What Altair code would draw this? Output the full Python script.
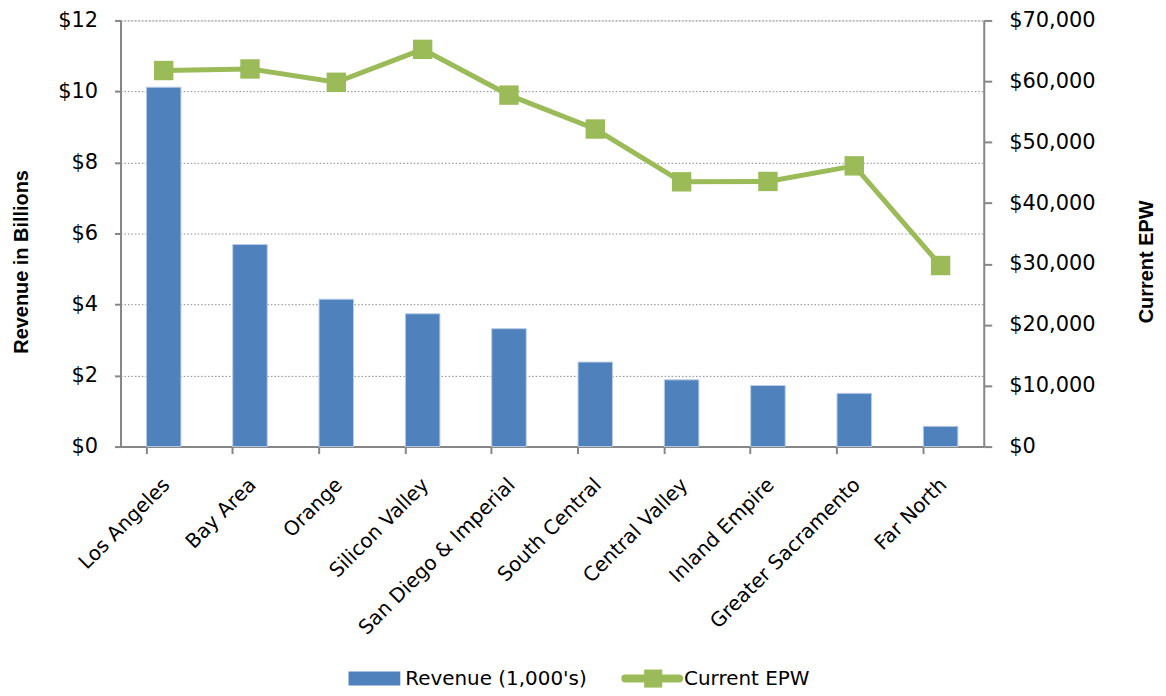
import altair as alt
import pandas as pd

regions = ["Los Angeles", "Bay Area", "Orange", "Silicon Valley", "San Diego & Imperial",
           "South Central", "Central Valley", "Inland Empire", "Greater Sacramento", "Far North"]
revenue = [10.12, 5.69, 4.15, 3.74, 3.32, 2.38, 1.88, 1.72, 1.50, 0.57]
epw = [61770, 62030, 59840, 65250, 57730, 52160, 43490, 43550, 46110, 29740]
left_ticks = [0, 2, 4, 6, 8, 10, 12]
right_ticks = [0, 10000, 20000, 30000, 40000, 50000, 60000, 70000]
legend_labels = ["Revenue (1,000's)", "Current EPW"]

BLUE = "#4F81BD"
GREEN = "#9BBB59"
GREY = "#868686"
FONT = "DejaVu Sans"
TFONT = "Liberation Sans"

df = pd.DataFrame({"region": regions, "revenue": revenue, "epw": epw})
leg = pd.DataFrame({"label": legend_labels})

xscale = alt.Scale(domain=regions, paddingInner=0.6, paddingOuter=0.3)

bars = alt.Chart(df).mark_bar(color=BLUE, stroke="#b9cde5", strokeWidth=1).encode(
    x=alt.X("region:N", sort=regions, scale=xscale,
            axis=alt.Axis(title=None, labelAngle=315, labelAlign="right", labelBaseline="middle",
                          labelPadding=35, labelOffset=3, ticks=False, domain=True,
                          domainColor=GREY, domainWidth=2, labelLimit=400,
                          labelFont=FONT, labelFontSize=20, labelColor="black", grid=False)),
    y=alt.Y("revenue:Q", scale=alt.Scale(domain=[0, 12], nice=False),
            axis=alt.Axis(title="Revenue in Billions", values=left_ticks, format="$d",
                          grid=True, gridDash=[1.5, 2], gridColor="#8a8a8a", gridWidth=1,
                          tickSize=6, tickColor=GREY, tickWidth=2, domainColor=GREY, domainWidth=2,
                          labelPadding=17, labelFont=FONT, labelFontSize=21, labelColor="black",
                          titleFont=TFONT, titleFontSize=20, titleFontWeight="bold", titleColor="black",
                          titleAngle=270, titleX=-99, titleY=242, titleAlign="center",
                          titleBaseline="middle")),
)

line = alt.Chart(df).mark_line(
    color=GREEN, strokeWidth=5,
    point=alt.OverlayMarkDef(shape="square", size=380, filled=True, color=GREEN, opacity=1),
).encode(
    x=alt.X("region:N", sort=regions, scale=xscale,
            axis=alt.Axis(title=None, orient="bottom", labels=False, ticks=True, bandPosition=0,
                          tickSize=7, tickColor=GREY, tickWidth=2, domain=False, grid=False)),
    y=alt.Y("epw:Q", scale=alt.Scale(domain=[0, 70000], nice=False),
            axis=alt.Axis(title="Current EPW", orient="right", values=right_ticks, format="$,d",
                          grid=False, tickSize=8, tickColor=GREY, tickWidth=2,
                          domainColor=GREY, domainWidth=2,
                          labelPadding=17, labelFont=FONT, labelFontSize=21, labelColor="black",
                          titleFont=TFONT, titleFontSize=20, titleFontWeight="bold", titleColor="black",
                          titleAngle=270, titleX=163, titleY=242, titleAlign="center",
                          titleBaseline="middle")),
)

main = alt.layer(bars, line).resolve_scale(y="independent").resolve_axis(x="independent")

LY = 661
leg_rect = alt.Chart(leg).transform_filter(alt.datum.label == legend_labels[0]).mark_rect(
    color=BLUE).encode(x=alt.value(229), x2=alt.value(281), y=alt.value(LY - 7), y2=alt.value(LY + 7))
leg_text1 = alt.Chart(leg).transform_filter(alt.datum.label == legend_labels[0]).mark_text(
    align="left", baseline="middle", font=FONT, fontSize=20, color="black").encode(
    x=alt.value(286), y=alt.value(LY), text="label:N")
leg_line = alt.Chart(leg).transform_filter(alt.datum.label == legend_labels[1]).mark_rule(
    color=GREEN, strokeWidth=8, strokeCap="round").encode(
    x=alt.value(507), x2=alt.value(561), y=alt.value(LY))
leg_sq = alt.Chart(leg).transform_filter(alt.datum.label == legend_labels[1]).mark_point(
    shape="square", size=330, filled=True, color=GREEN, opacity=1).encode(
    x=alt.value(535), y=alt.value(LY))
leg_text2 = alt.Chart(leg).transform_filter(alt.datum.label == legend_labels[1]).mark_text(
    align="left", baseline="middle", font=FONT, fontSize=20, color="black").encode(
    x=alt.value(566), y=alt.value(LY), text="label:N")

chart = alt.layer(main, leg_rect, leg_text1, leg_line, leg_sq, leg_text2).properties(
    width=867, height=428,
    autosize=alt.AutoSizeParams(type="none"),
    padding={"left": 113, "top": 11, "right": 175, "bottom": 246},
).configure_view(stroke=None).configure(background="white")

chart.save("out.html", embed_options={"renderer": "svg", "actions": False})
